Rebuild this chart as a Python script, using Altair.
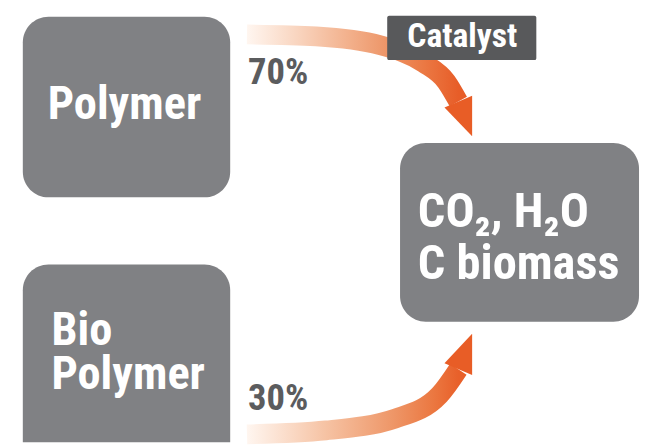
import altair as alt
import pandas as pd

# ---- data (diagram content) ----
box_names = ["Polymer", "Bio Polymer", "Product"]
box_x = [23, 23, 405]
box_x2 = [233, 233, 647]
box_y = [14, 265, 142]
box_y2 = [197, 470, 323]

center_labels = ["Polymer"]
center_x = [126]
center_y = [118]

source_labels = ["Bio", "Polymer"]
source_x = [52, 52]
source_y = [346, 391]

product_labels = ["CO₂, H₂O", "C biomass"]
product_x = [423, 423]
product_y = [227, 280]

pct_labels = ["70%", "30%"]
pct_x = [251, 251]
pct_y = [82, 412]

catalyst_label = ["Catalyst"]
catalyst_box = dict(x=[392], x2=[543], y=[13], y2=[58])
catalyst_text_xy = ([468], [45])

# arrow centerlines
top_arrow_x = [250, 320, 385, 429, 452, 464]
top_arrow_y = [32, 34, 43, 61, 80, 100]
bot_arrow_x = [250, 330, 400, 445, 464]
bot_arrow_y = [437, 433, 421, 397, 371]

# arrowheads (triangles as areas)
head_id = ["top", "top", "bottom", "bottom"]
head_x = [450, 478, 450, 478]
head_y = [106, 94, 365, 335]
head_y2 = [106, 135, 365, 377]

GRAY = "#808184"
DARK = "#58595b"
FONT = "Roboto Condensed, sans-serif"

xs = alt.Scale(domain=[8, 649], range=[0, 641], nice=False, zero=False)
ys = alt.Scale(domain=[8, 445], range=[0, 437], nice=False, zero=False)


def X(f):
    return alt.X(f"{f}:Q", scale=xs, axis=None)


def Y(f):
    return alt.Y(f"{f}:Q", scale=ys, axis=None)


top_grad = {
    "gradient": "linear", "x1": 0, "x2": 1, "y1": 0, "y2": 0,
    "stops": [
        {"offset": 0, "color": "#fff6f0"},
        {"offset": 0.23, "color": "#f9d6c1"},
        {"offset": 0.47, "color": "#f3b28e"},
        {"offset": 0.63, "color": "#ee9a6e"},
        {"offset": 0.84, "color": "#eb7843"},
        {"offset": 1, "color": "#e75d28"},
    ],
}
bot_grad = {
    "gradient": "linear", "x1": 0, "x2": 1, "y1": 0, "y2": 0,
    "stops": [
        {"offset": 0, "color": "#fff6f0"},
        {"offset": 0.37, "color": "#f6c3a4"},
        {"offset": 0.7, "color": "#ee9566"},
        {"offset": 0.89, "color": "#eb763f"},
        {"offset": 1, "color": "#e8602a"},
    ],
}

top_df = pd.DataFrame({"x": top_arrow_x, "y": top_arrow_y})
bot_df = pd.DataFrame({"x": bot_arrow_x, "y": bot_arrow_y})
head_df = pd.DataFrame({"id": head_id, "x": head_x, "y": head_y, "y2": head_y2})
box_df = pd.DataFrame({"name": box_names, "x": box_x, "x2": box_x2, "y": box_y, "y2": box_y2})
cat_df = pd.DataFrame(catalyst_box)
center_df = pd.DataFrame({"t": center_labels, "x": center_x, "y": center_y})
source_df = pd.DataFrame({"t": source_labels, "x": source_x, "y": source_y})
product_df = pd.DataFrame({"t": product_labels, "x": product_x, "y": product_y})
pct_df = pd.DataFrame({"t": pct_labels, "x": pct_x, "y": pct_y})
cat_txt_df = pd.DataFrame({"t": catalyst_label, "x": catalyst_text_xy[0], "y": catalyst_text_xy[1]})

top_band = alt.Chart(top_df).mark_line(
    stroke=top_grad, strokeWidth=20, interpolate="monotone", strokeCap="butt"
).encode(x=X("x"), y=Y("y"))

bot_band = alt.Chart(bot_df).mark_line(
    stroke=bot_grad, strokeWidth=20, interpolate="monotone", strokeCap="butt"
).encode(x=X("x"), y=Y("y"))

heads = alt.Chart(head_df).mark_area(color="#e85d26", orient="vertical").encode(
    x=X("x"), y=Y("y"), y2=alt.Y2("y2:Q"), detail="id:N"
)

boxes = alt.Chart(box_df).mark_rect(color=GRAY, cornerRadius=26, clip=True).encode(
    x=X("x"), x2=alt.X2("x2:Q"), y=Y("y"), y2=alt.Y2("y2:Q")
)

cat_box = alt.Chart(cat_df).mark_rect(color=DARK, cornerRadius=2).encode(
    x=X("x"), x2=alt.X2("x2:Q"), y=Y("y"), y2=alt.Y2("y2:Q")
)

center_txt = alt.Chart(center_df).mark_text(
    font=FONT, fontSize=47, fontWeight="bold", color="white", align="center", baseline="alphabetic"
).encode(x=X("x"), y=Y("y"), text="t:N")

source_txt = alt.Chart(source_df).mark_text(
    font=FONT, fontSize=47, fontWeight="bold", color="white", align="left", baseline="alphabetic"
).encode(x=X("x"), y=Y("y"), text="t:N")

product_txt = alt.Chart(product_df).mark_text(
    font=FONT, fontSize=49, fontWeight="bold", color="white", align="left", baseline="alphabetic"
).encode(x=X("x"), y=Y("y"), text="t:N")

pct_txt = alt.Chart(pct_df).mark_text(
    font=FONT, fontSize=37, fontWeight="bold", color="#5b5c5e", align="left", baseline="alphabetic"
).encode(x=X("x"), y=Y("y"), text="t:N")

cat_txt = alt.Chart(cat_txt_df).mark_text(
    font=FONT, fontSize=34, fontWeight="bold", color="white", align="center", baseline="alphabetic"
).encode(x=X("x"), y=Y("y"), text="t:N")

chart = alt.layer(
    top_band, bot_band, heads, boxes, cat_box, center_txt, source_txt, product_txt, pct_txt, cat_txt
).properties(
    width=641, height=437, padding=0, autosize="none", background="white"
).configure_view(stroke=None)

chart.save("out.html", embed_options={"renderer": "svg", "actions": False})
